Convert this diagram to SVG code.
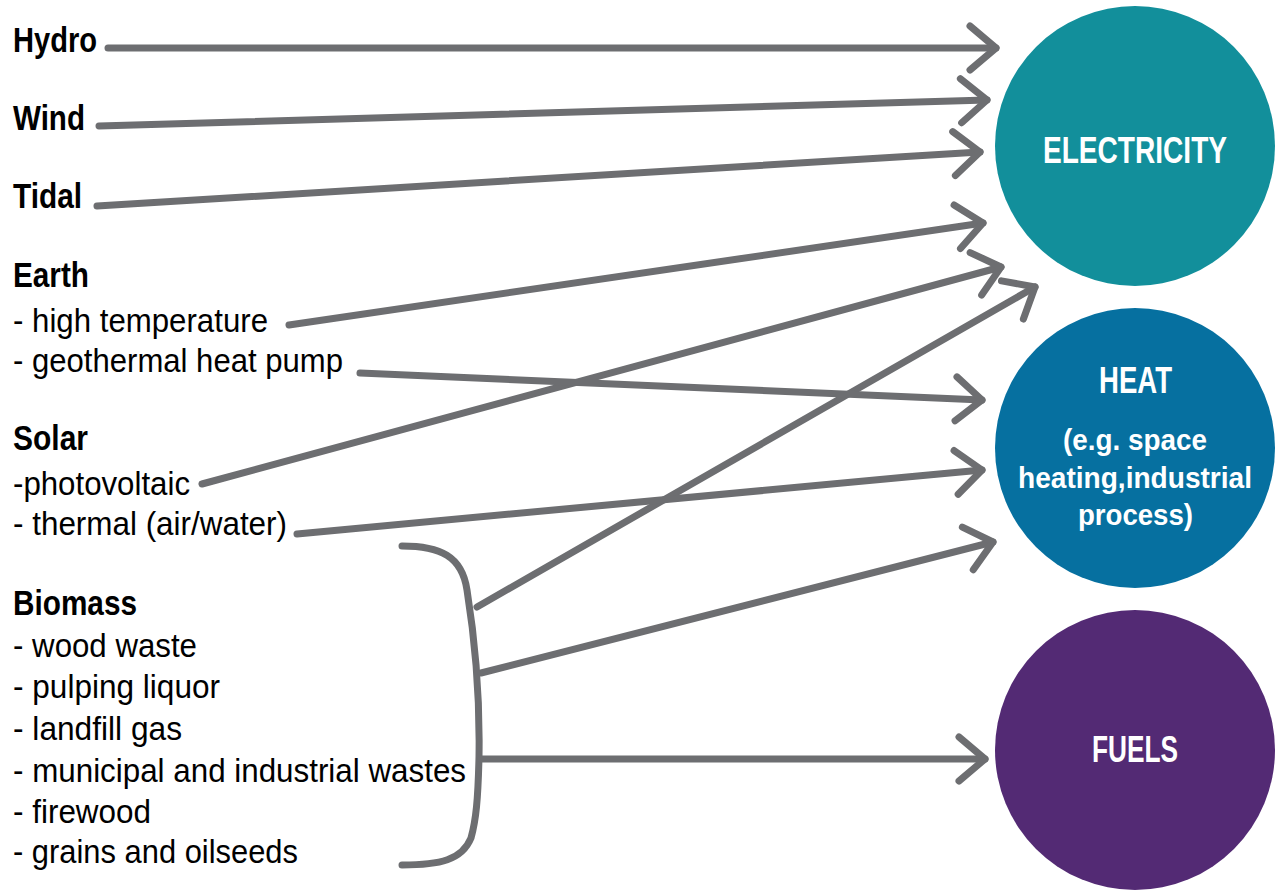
<svg xmlns="http://www.w3.org/2000/svg" width="1284" height="890" viewBox="0 0 1284 890">
<style>
.lbl{font-family:"Liberation Sans Narrow","Liberation Sans",Arial,sans-serif;fill:#000;}
.b{font-weight:bold;font-size:35px;}
.r{font-size:33px;}
.ct{font-family:"Liberation Sans Narrow","Liberation Sans",Arial,sans-serif;fill:#fff;font-weight:bold;}
.big{font-size:37px;}
.sm{font-size:30px;}
.con{fill:none;stroke:#6d6e71;stroke-width:7;stroke-linecap:round;stroke-linejoin:round;}
</style>
<defs>
<marker id="ah" markerUnits="userSpaceOnUse" markerWidth="80" markerHeight="80" refX="0" refY="0" orient="auto" overflow="visible" viewBox="-40 -40 80 80">
<path d="M-26,-22 L0,0 L-26,22" fill="none" stroke="#6d6e71" stroke-width="7" stroke-linecap="round" stroke-linejoin="round"/>
</marker>
</defs>
<rect width="1284" height="890" fill="#fff"/>

<g id="electricity">
<circle cx="1135" cy="146" r="140" fill="#128f9b"/>
<text class="ct big" x="1043" y="163" textLength="184" lengthAdjust="spacingAndGlyphs">ELECTRICITY</text>
</g>
<g id="heat">
<circle cx="1135" cy="448" r="140" fill="#0670a0"/>
<text class="ct big" x="1099" y="393" textLength="73" lengthAdjust="spacingAndGlyphs">HEAT</text>
<text class="ct sm" x="1063" y="450" textLength="144" lengthAdjust="spacingAndGlyphs">(e.g. space</text>
<text class="ct sm" x="1018" y="488" textLength="234" lengthAdjust="spacingAndGlyphs">heating,industrial</text>
<text class="ct sm" x="1078" y="525" textLength="115" lengthAdjust="spacingAndGlyphs">process)</text>
</g>
<g id="fuels">
<circle cx="1135" cy="750" r="140" fill="#532a74"/>
<text class="ct big" x="1092" y="762" textLength="86" lengthAdjust="spacingAndGlyphs">FUELS</text>
</g>

<g id="hydro"><text class="lbl b" x="13" y="52" textLength="84" lengthAdjust="spacingAndGlyphs">Hydro</text></g>
<g id="wind"><text class="lbl b" x="13" y="130" textLength="72" lengthAdjust="spacingAndGlyphs">Wind</text></g>
<g id="tidal"><text class="lbl b" x="13" y="208" textLength="69" lengthAdjust="spacingAndGlyphs">Tidal</text></g>
<g id="earth">
<text class="lbl b" x="13" y="287" textLength="76" lengthAdjust="spacingAndGlyphs">Earth</text>
<text class="lbl r" x="13" y="332" textLength="255" lengthAdjust="spacingAndGlyphs">- high temperature</text>
<text class="lbl r" x="13" y="372" textLength="330" lengthAdjust="spacingAndGlyphs">- geothermal heat pump</text>
</g>
<g id="solar">
<text class="lbl b" x="13" y="450" textLength="75" lengthAdjust="spacingAndGlyphs">Solar</text>
<text class="lbl r" x="13" y="495" textLength="177" lengthAdjust="spacingAndGlyphs">-photovoltaic</text>
<text class="lbl r" x="13" y="535" textLength="274" lengthAdjust="spacingAndGlyphs">- thermal (air/water)</text>
</g>
<g id="biomass">
<text class="lbl b" x="13" y="615" textLength="124" lengthAdjust="spacingAndGlyphs">Biomass</text>
<text class="lbl r" x="13" y="657" textLength="184" lengthAdjust="spacingAndGlyphs">- wood waste</text>
<text class="lbl r" x="13" y="698" textLength="207" lengthAdjust="spacingAndGlyphs">- pulping liquor</text>
<text class="lbl r" x="13" y="740" textLength="169" lengthAdjust="spacingAndGlyphs">- landfill gas</text>
<text class="lbl r" x="13" y="782" textLength="453" lengthAdjust="spacingAndGlyphs">- municipal and industrial wastes</text>
<text class="lbl r" x="13" y="823" textLength="138" lengthAdjust="spacingAndGlyphs">- firewood</text>
<text class="lbl r" x="13" y="863" textLength="285" lengthAdjust="spacingAndGlyphs">- grains and oilseeds</text>
</g>

<g id="connectors">
<path class="con" d="M402,546 C440,546 462,556 467,590 C475,640 480,700 479,757 C478,800 476,820 471,838 C462,860 440,865 402,865"/>
<line class="con" x1="108" y1="48" x2="996" y2="48" marker-end="url(#ah)"/>
<line class="con" x1="99" y1="126" x2="987" y2="100" marker-end="url(#ah)"/>
<line class="con" x1="97" y1="206" x2="980" y2="152" marker-end="url(#ah)"/>
<line class="con" x1="289" y1="325" x2="983" y2="223" marker-end="url(#ah)"/>
<line class="con" x1="202" y1="484" x2="1001" y2="267" marker-end="url(#ah)"/>
<line class="con" x1="477" y1="607" x2="1035" y2="287" marker-end="url(#ah)"/>
<line class="con" x1="360" y1="373" x2="982" y2="400" marker-end="url(#ah)"/>
<line class="con" x1="297" y1="534" x2="982" y2="470" marker-end="url(#ah)"/>
<line class="con" x1="481" y1="673" x2="993" y2="542" marker-end="url(#ah)"/>
<line class="con" x1="481" y1="759" x2="985" y2="759" marker-end="url(#ah)"/>
</g>
</svg>
